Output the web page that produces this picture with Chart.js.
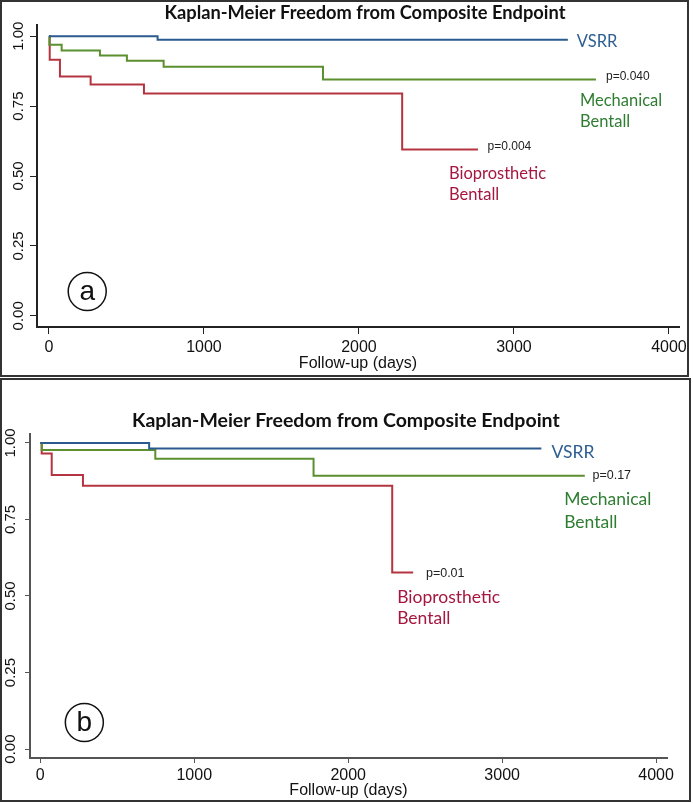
<!DOCTYPE html>
<html>
<head>
<meta charset="utf-8">
<script src="https://cdn.jsdelivr.net/npm/chart.js@4.4.1/dist/chart.umd.min.js"></script>
<style>
  body { margin: 0; background: #fff; }
  .frame { position: absolute; box-sizing: border-box; border: 2px solid #333; }
  canvas { position: absolute; left: 0; }
</style>
</head>
<body>
<div class="frame" style="left:0;top:0;width:689px;height:377px"></div>
<div class="frame" style="left:0;top:378px;width:691px;height:424px"></div>
<canvas id="chartA" width="693" height="378" style="top:0"></canvas>
<canvas id="chartB" width="693" height="425" style="top:378px"></canvas>
<script>

// panel (a) data: event days and survival after each step

const vsrrDaysA = [0, 701, 3348];
const vsrrSurvA = [1.00, 0.987, 0.987];

const mechDaysA = [0, 3, 82, 329, 503, 740, 1768, 3529];
const mechSurvA = [1.00, 0.969, 0.949, 0.931, 0.912, 0.891, 0.845, 0.845];

const bioDaysA = [0, 5, 71, 269, 613, 2279, 2768];
const bioSurvA = [1.00, 0.916, 0.856, 0.827, 0.795, 0.595, 0.595];

// panel (b) data

const vsrrDaysB = [0, 707, 3255];
const vsrrSurvB = [1.00, 0.982, 0.982];

const mechDaysB = [0, 9, 747, 1775, 3537];
const mechSurvB = [1.00, 0.977, 0.948, 0.893, 0.893];

const bioDaysB = [0, 9, 74, 277, 2286, 2422];
const bioSurvB = [1.00, 0.965, 0.895, 0.860, 0.577, 0.577];

// axes + text

const xTickValues = [0, 1000, 2000, 3000, 4000];
const yTickValues = [0, 0.25, 0.5, 0.75, 1];

const chartTitle = 'Kaplan-Meier Freedom from Composite Endpoint';
const xAxisTitle = 'Follow-up (days)';
const seriesNames = ['VSRR', 'Mechanical Bentall', 'Bioprosthetic Bentall'];
const pValuesA = ['p=0.040', 'p=0.004'];
const pValuesB = ['p=0.17', 'p=0.01'];

const lineColors = ['#2b5b8e', '#5b8f2f', '#b4343f'];
const textColors = ['#2e5e91', '#2f7d32', '#a6173f'];


function toPoints(days, surv) {
    return days.map((d, i) => ({ x: d, y: surv[i] }));
}


// draws the title, curve labels, p values and the panel letter

const notesPlugin = {

    id: 'notes',

    afterDraw(chart, args, opts) {

        const ctx = chart.ctx;
        const xs = chart.scales.x;
        const ys = chart.scales.y;

        ctx.save();
        ctx.textBaseline = 'middle';

        ctx.font = opts.titleFont;
        ctx.fillStyle = '#111';
        ctx.textAlign = 'center';
        ctx.fillText(chartTitle, xs.getPixelForValue(opts.titleAt[0]), ys.getPixelForValue(opts.titleAt[1]));

        ctx.textAlign = 'left';

        opts.notes.forEach(n => {
            ctx.font = n.font;
            ctx.fillStyle = n.color;
            ctx.fillText(n.text, xs.getPixelForValue(n.x), ys.getPixelForValue(n.y));
        });

        const cx = xs.getPixelForValue(opts.badge.x);
        const cy = ys.getPixelForValue(opts.badge.y);

        ctx.beginPath();
        ctx.arc(cx, cy, 19, 0, Math.PI * 2);
        ctx.lineWidth = 1.5;
        ctx.strokeStyle = '#111';
        ctx.stroke();

        ctx.font = '28px "Liberation Sans"';
        ctx.fillStyle = '#111';
        ctx.textAlign = 'center';
        ctx.fillText(opts.badge.text, cx, cy + 1);

        ctx.restore();
    }
};


function makeChart(id, series, p) {

    const datasets = series.map((s, i) => ({
        label: seriesNames[i],
        data: toPoints(s[0], s[1]),
        borderColor: lineColors[i],
        borderWidth: 2,
        pointRadius: 0,
        stepped: true,
        fill: false
    }));

    return new Chart(document.getElementById(id), {

        type: 'line',

        data: { datasets: datasets },

        plugins: [notesPlugin],

        options: {

            responsive: false,
            animation: false,
            devicePixelRatio: 1,

            layout: {
                padding: p.padding
            },

            plugins: {
                legend: { display: false },
                tooltip: { enabled: false },
                notes: p.notes
            },

            scales: {

                x: {
                    type: 'linear',
                    min: p.xMin,
                    max: p.xMax,
                    afterBuildTicks: s => { s.ticks = xTickValues.map(v => ({ value: v })); },
                    afterFit: s => { s.height = p.xHeight; },
                    grid: {
                        drawOnChartArea: false,
                        tickLength: p.tick,
                        color: p.axisColor
                    },
                    border: { color: p.axisColor, width: 2 },
                    ticks: {
                        color: '#111',
                        font: { size: 16 },
                        padding: p.xPad,
                        maxRotation: 0,
                        callback: v => String(v)
                    },
                    title: {
                        display: true,
                        text: xAxisTitle,
                        color: '#111',
                        font: { size: 16 },
                        padding: { top: 0, bottom: p.titlePad }
                    }
                },

                y: {
                    min: p.yMin,
                    max: p.yMax,
                    afterBuildTicks: s => { s.ticks = yTickValues.map(v => ({ value: v })); },
                    afterFit: s => { s.width = p.yWidth; },
                    grid: {
                        drawOnChartArea: false,
                        tickLength: p.tick,
                        color: p.axisColor
                    },
                    border: { color: p.axisColor, width: 2 },
                    ticks: {
                        color: '#111',
                        font: { size: 15 },
                        minRotation: 90,
                        maxRotation: 90,
                        crossAlign: 'center',
                        padding: p.yPad,
                        callback: v => v.toFixed(2)
                    }
                }
            }
        }
    });
}


Chart.defaults.font.family = '"Liberation Sans", Arial, sans-serif';

const calibriA = '16.5px Lato';
const pFontA = '12px "Liberation Sans"';

makeChart('chartA',
    [[vsrrDaysA, vsrrSurvA], [mechDaysA, mechSurvA], [bioDaysA, bioSurvA]],
    {
        padding: { left: 0, top: 25, right: 14, bottom: 0 },
        xMin: -77, xMax: 4065, yMin: -0.04, yMax: 1.04,
        xHeight: 51, yWidth: 37, tick: 7,
        xPad: 4, yPad: -3, titlePad: 5,
        axisColor: '#222',
        notes: {
            titleFont: 'bold 18.3px Lato',
            titleAt: [2039, 1.081],
            badge: { text: 'a', x: 247, y: 0.087 },
            notes: [
                { text: 'VSRR', x: 3406, y: 0.979, color: textColors[0], font: calibriA },
                { text: pValuesA[0], x: 3594, y: 0.854, color: '#222', font: pFontA },
                { text: 'Mechanical', x: 3426, y: 0.770, color: textColors[1], font: calibriA },
                { text: 'Bentall', x: 3426, y: 0.696, color: textColors[1], font: calibriA },
                { text: pValuesA[1], x: 2830, y: 0.604, color: '#222', font: pFontA },
                { text: 'Bioprosthetic', x: 2581, y: 0.509, color: textColors[2], font: calibriA },
                { text: 'Bentall', x: 2581, y: 0.435, color: textColors[2], font: calibriA }
            ]
        }
    });

const calibriB = '17.5px Lato';
const pFontB = '12.5px "Liberation Sans"';

makeChart('chartB',
    [[vsrrDaysB, vsrrSurvB], [mechDaysB, mechSurvB], [bioDaysB, bioSurvB]],
    {
        padding: { left: 0, top: 56, right: 26, bottom: 0 },
        xMin: -67, xMax: 4071, yMin: -0.029, yMax: 1.029,
        xHeight: 45, yWidth: 30, tick: 5,
        xPad: 3, yPad: 0, titlePad: 3,
        axisColor: '#555',
        notes: {
            titleFont: 'bold 19.5px Lato',
            titleAt: [1985, 1.071],
            badge: { text: 'b', x: 286, y: 0.087 },
            notes: [
                { text: 'VSRR', x: 3321, y: 0.969, color: textColors[0], font: calibriB },
                { text: pValuesB[0], x: 3587, y: 0.894, color: '#222', font: pFontB },
                { text: 'Mechanical', x: 3403, y: 0.817, color: textColors[1], font: calibriB },
                { text: 'Bentall', x: 3403, y: 0.741, color: textColors[1], font: calibriB },
                { text: pValuesB[1], x: 2505, y: 0.573, color: '#222', font: pFontB },
                { text: 'Bioprosthetic', x: 2318, y: 0.497, color: textColors[2], font: calibriB },
                { text: 'Bentall', x: 2318, y: 0.426, color: textColors[2], font: calibriB }
            ]
        }
    });

</script>
</body>
</html>
